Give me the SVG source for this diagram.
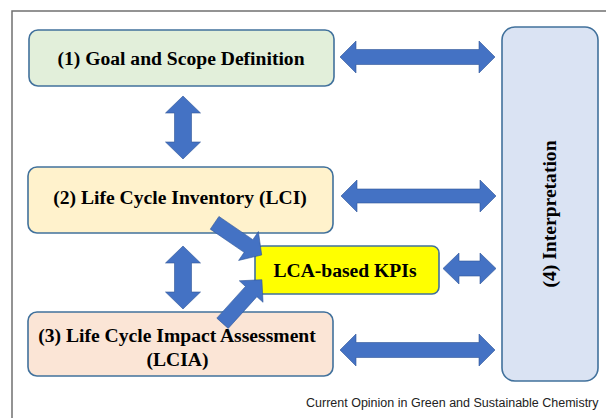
<svg xmlns="http://www.w3.org/2000/svg" width="606" height="418" viewBox="0 0 606 418">
  <style>
    .box { stroke: #41719c; stroke-width: 1.6; }
    .lbl { font-family: "Liberation Serif", "Times New Roman", serif; font-weight: bold; font-size: 19.6px; fill: #000; text-anchor: middle; }
    .arrow { fill: #4472c4; stroke: #2f5597; stroke-width: 0.6; stroke-linejoin: miter; }
    .frame { stroke: #707070; stroke-width: 1.5; fill: none; }
    .caption { font-family: "Liberation Sans", Arial, sans-serif; font-size: 12.5px; fill: #222; }
  </style>

  <rect width="606" height="418" fill="#ffffff"/>

  <!-- panel frame (left and top edges) -->
  <path class="frame" d="M12 418 V11 H606"/>

  <g id="goal-scope">
    <rect class="box" x="29" y="30" width="305" height="56" rx="9" fill="#e2efda"/>
    <text class="lbl" x="181" y="65">(1) Goal and Scope Definition</text>
  </g>

  <g id="lci">
    <rect class="box" x="28" y="167" width="305" height="66" rx="9" fill="#fff2cc"/>
    <text class="lbl" x="180" y="204">(2) Life Cycle Inventory (LCI)</text>
  </g>

  <g id="lcia">
    <rect class="box" x="28" y="312" width="305" height="64" rx="9" fill="#fbe5d6"/>
  </g>

  <g id="kpis">
    <rect class="box" x="255" y="246" width="184" height="48" rx="7" fill="#ffff00"/>
    <text class="lbl" x="345" y="277">LCA-based KPIs</text>
  </g>

  <g id="interpretation">
    <rect class="box" x="502" y="27" width="96" height="354" rx="13" fill="#dae3f3"/>
    <text class="lbl" transform="translate(556 214) rotate(-90)" x="0" y="0">(4) Interpretation</text>
  </g>

  <g id="connectors">
    <!-- (1) <-> (2) -->
    <polygon class="arrow" points="183,96 200.5,113 191.5,113 191.5,142 200.5,142 183,159 165.5,142 174.5,142 174.5,113 165.5,113"/>
    <!-- (2) <-> (3) -->
    <polygon class="arrow" points="183,246 200.5,263 191.5,263 191.5,292 200.5,292 183,309 165.5,292 174.5,292 174.5,263 165.5,263"/>
    <!-- (1) <-> (4) -->
    <polygon class="arrow" points="340,57 356,41 356,49.5 479,49.5 479,41 495,57 479,73 479,64.5 356,64.5 356,73"/>
    <!-- (2) <-> (4) -->
    <polygon class="arrow" points="341,196 357,180 357,189 480,189 480,180 496,196 480,212 480,203 357,203 357,212"/>
    <!-- (3) <-> (4) -->
    <polygon class="arrow" points="340,350 356,334 356,342.5 479,342.5 479,334 495,350 479,366 479,357.5 356,357.5 356,366"/>
    <!-- KPIs <-> (4) -->
    <polygon class="arrow" points="443,268.5 459,253 459,261 480,261 480,253 496,268.5 480,284 480,276 459,276 459,284"/>
    <!-- (2) -> KPIs -->
    <polygon class="arrow" points="218.95,216.44 252.85,239.64 258.38,231.55 261.7,255 238.62,260.45 244.15,252.36 210.25,229.16"/>
    <!-- (3) -> KPIs -->
    <polygon class="arrow" points="216.79,318.14 245.46,286.41 239.3,280.8 261.9,279.7 263.04,302.3 256.88,296.73 228.21,328.46"/>
  </g>

  <g id="lcia-label">
    <text class="lbl" x="177" y="342">(3) Life Cycle Impact Assessment</text>
    <text class="lbl" x="177.5" y="366">(LCIA)</text>
  </g>

  <text class="caption" x="306" y="407">Current Opinion in Green and Sustainable Chemistry</text>
</svg>
